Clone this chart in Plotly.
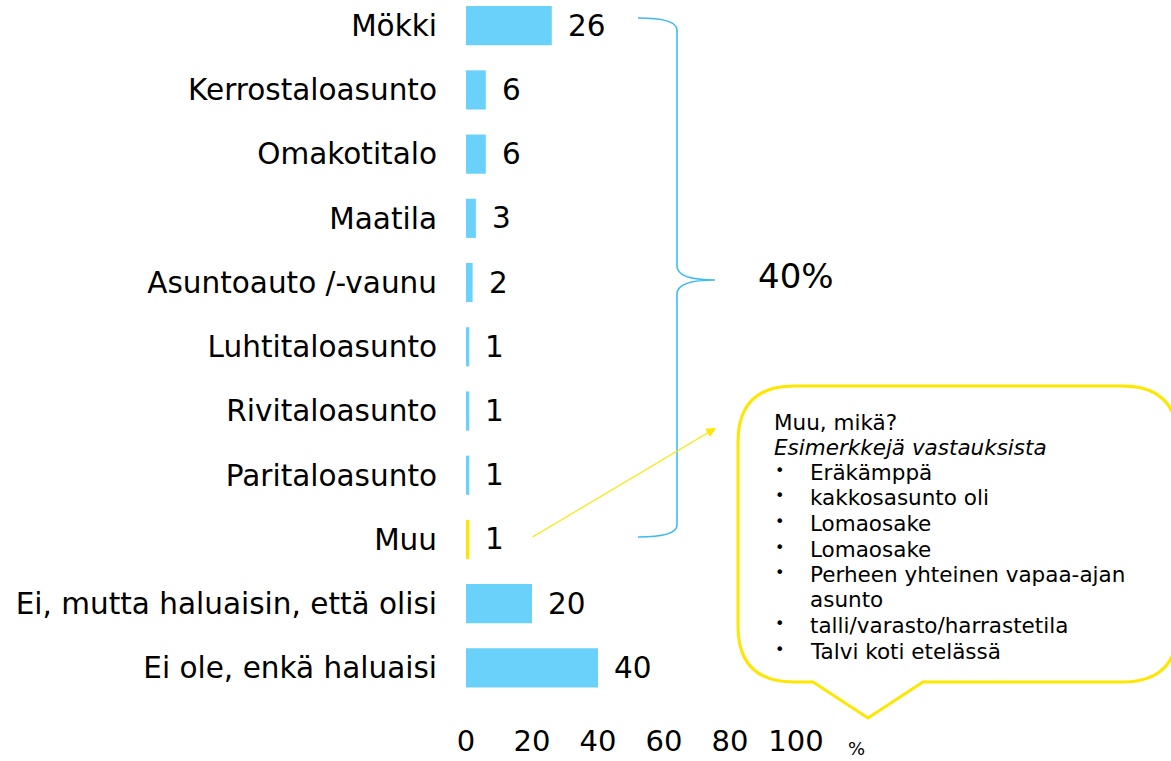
import plotly.graph_objects as go

# -----------------------------
# Data
# -----------------------------
categories = [
    "Mökki",
    "Kerrostaloasunto",
    "Omakotitalo",
    "Maatila",
    "Asuntoauto /-vaunu",
    "Luhtitaloasunto",
    "Rivitaloasunto",
    "Paritaloasunto",
    "Muu",
    "Ei, mutta haluaisin, että olisi",
    "Ei ole, enkä haluaisi",
]
values = [26, 6, 6, 3, 2, 1, 1, 1, 1, 20, 40]
x_ticks = [0, 20, 40, 60, 80, 100]

bracket_label = "40%"
callout_title = "Muu, mikä?"
callout_subtitle = "Esimerkkejä vastauksista"
callout_items = [
    "Eräkämppä",
    "kakkosasunto oli",
    "Lomaosake",
    "Lomaosake",
    "Perheen yhteinen vapaa-ajan",
    "asunto",
    "talli/varasto/harrastetila",
    "Talvi koti etelässä",
]

# -----------------------------
# Page geometry (pixels)
# -----------------------------
W, H = 1171, 761
ML, MR, MT, MB = 466, 0, 0, 61
PW, PH = W - ML - MR, H - MT - MB
PX_PER_UNIT = 3.3

FONT = "DejaVu Sans, Verdana, sans-serif"
BLUE = "#6AD1FA"
YELLOW = "#FFE600"
BRACE = "#3DBBF0"


def px(x):
    return (x - ML) / PW


def py(y):
    return (H - MB - y) / PH


def note(x, y, text, size, **kw):
    # free text placed by page pixels
    fig.add_annotation(
        x=px(x), y=py(y), xref="paper", yref="paper",
        text=text, showarrow=False, xanchor="left", yanchor="middle",
        font=dict(family=FONT, size=size, color="black"), **kw,
    )


bar_colors = [YELLOW if c == "Muu" else BLUE for c in categories]

fig = go.Figure()

fig.add_trace(go.Bar(
    x=values,
    y=categories,
    orientation="h",
    marker=dict(color=bar_colors, line=dict(width=0)),
    hoverinfo="skip",
))

# value labels next to bars
for c, v in zip(categories, values):
    fig.add_annotation(
        x=v, y=c, text=str(v), showarrow=False,
        xanchor="left", yanchor="middle", xshift=14,
        font=dict(family=FONT, size=29.5, color="black"),
    )

# -----------------------------
# Curly bracket + 40%
# -----------------------------
def P(x, y):
    return f"{px(x):.5f},{py(y):.5f}"


brace_path = (
    f"M {P(638, 18)} Q {P(677, 18)} {P(677, 30)} "
    f"L {P(677, 266)} Q {P(677, 280)} {P(715, 280)} "
    f"Q {P(677, 280)} {P(677, 294)} "
    f"L {P(677, 525)} Q {P(677, 537)} {P(638, 537)}"
)
fig.add_shape(type="path", path=brace_path, xref="paper", yref="paper",
              line=dict(color=BRACE, width=1.6))

note(756, 276, bracket_label, 34)

# -----------------------------
# Callout bubble
# -----------------------------
L, T, R, B, r = 738, 386, 1178, 682, 56
bubble_path = (
    f"M {P(L + r, T)} L {P(R - r, T)} Q {P(R, T)} {P(R, T + r)} "
    f"L {P(R, B - r)} Q {P(R, B)} {P(R - r, B)} "
    f"L {P(923, B)} L {P(868, 718)} L {P(813, B)} "
    f"L {P(L + r, B)} Q {P(L, B)} {P(L, B - r)} "
    f"L {P(L, T + r)} Q {P(L, T)} {P(L + r, T)} Z"
)
fig.add_shape(type="path", path=bubble_path, xref="paper", yref="paper",
              line=dict(color=YELLOW, width=3), fillcolor="white")

line_y = [422, 447, 472, 497, 523, 549, 574, 599, 625, 651]
note(772, line_y[0], callout_title, 21.5)
note(772, line_y[1], f"<i>{callout_subtitle}</i>", 21.5)
for item, yy in zip(callout_items, line_y[2:]):
    if item != "asunto":
        note(773, yy, "•", 16, yshift=2)
    note(808, yy, item, 21.5)

# arrow from "Muu" to the callout
fig.add_annotation(
    x=px(716), y=py(428), xref="paper", yref="paper",
    ax=531 - 716, ay=538 - 428,
    text="", showarrow=True, arrowhead=2, arrowsize=1.6,
    arrowwidth=1.2, arrowcolor=YELLOW,
)

# percent unit
note(846, 748, "%", 18)

# -----------------------------
# Layout
# -----------------------------
fig.update_layout(
    width=W, height=H,
    margin=dict(l=ML, r=MR, t=MT, b=MB),
    paper_bgcolor="white",
    plot_bgcolor="white",
    showlegend=False,
    bargap=0.39,
    font=dict(family=FONT, color="black"),
)
fig.update_xaxes(
    range=[0, PW / PX_PER_UNIT],
    tickvals=x_ticks,
    ticktext=[str(t) for t in x_ticks],
    showgrid=False, zeroline=False, showline=False,
    tickfont=dict(family=FONT, size=29, color="black"),
    ticklabelstandoff=21,
    automargin=False,
)
fig.update_yaxes(
    categoryorder="array",
    categoryarray=categories,
    range=[10.5, -0.4],
    showgrid=False, zeroline=False, showline=False,
    tickfont=dict(family=FONT, size=29.5, color="black"),
    ticklabelstandoff=28,
    automargin=False,
)

fig.write_html(
    "out.html",
    config={"displayModeBar": False},
    post_script="document.body.style.margin='0';",
)
